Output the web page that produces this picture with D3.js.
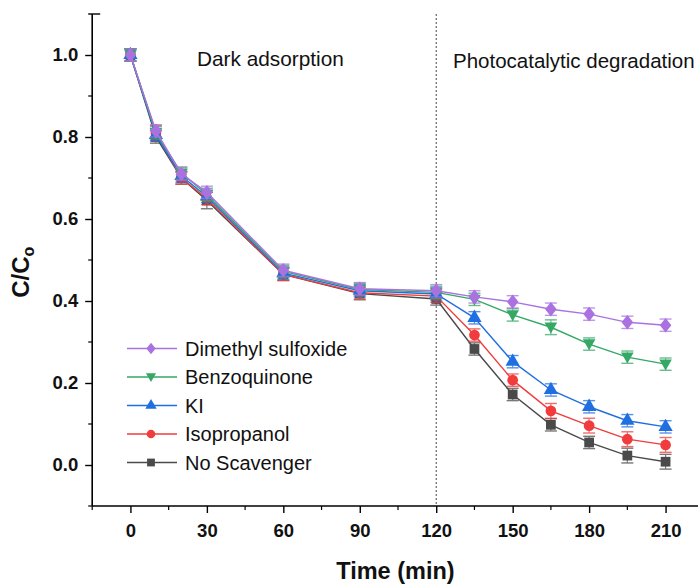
<!DOCTYPE html>
<html>
<head>
<meta charset="utf-8">
<script src="https://cdn.jsdelivr.net/npm/d3@7"></script>
<style>
  html, body { margin: 0; padding: 0; background: #fff; }
  svg { display: block; font-family: "Liberation Sans", Arial, sans-serif; }
</style>
</head>
<body>
<svg id="chart" width="698" height="586"></svg>
<script>
// Sampling times (min)
const times = [0, 10, 20, 30, 60, 90, 120, 135, 150, 165, 180, 195, 210];

// C/Co for each scavenger
const noScavenger  = [1.00, 0.800, 0.700, 0.645, 0.465, 0.418, 0.405, 0.283, 0.172, 0.098, 0.055, 0.023, 0.008];
const isopropanol  = [1.00, 0.810, 0.700, 0.650, 0.465, 0.420, 0.412, 0.317, 0.207, 0.132, 0.096, 0.063, 0.049];
const ki           = [1.00, 0.805, 0.705, 0.655, 0.468, 0.425, 0.417, 0.359, 0.252, 0.183, 0.142, 0.108, 0.093];
const benzoquinone = [1.00, 0.810, 0.712, 0.660, 0.472, 0.428, 0.421, 0.404, 0.366, 0.336, 0.295, 0.263, 0.246];
const dmso         = [1.00, 0.815, 0.710, 0.665, 0.475, 0.430, 0.425, 0.410, 0.398, 0.380, 0.368, 0.348, 0.341];

// Error bar half-widths
const errNoScav = [0.015, 0.015, 0.015, 0.020, 0.015, 0.015, 0.015, 0.015, 0.015, 0.015, 0.015, 0.018, 0.018];
const errIso    = [0.015, 0.018, 0.015, 0.015, 0.015, 0.015, 0.015, 0.015, 0.015, 0.018, 0.018, 0.018, 0.018];
const errKi     = [0.015, 0.015, 0.015, 0.015, 0.015, 0.015, 0.015, 0.015, 0.015, 0.015, 0.015, 0.015, 0.015];
const errBq     = [0.015, 0.015, 0.015, 0.015, 0.015, 0.015, 0.015, 0.015, 0.015, 0.018, 0.015, 0.015, 0.015];
const errDmso   = [0.015, 0.015, 0.015, 0.015, 0.015, 0.015, 0.015, 0.015, 0.015, 0.015, 0.015, 0.015, 0.015];

const seriesNames  = ["No Scavenger", "Isopropanol", "KI", "Benzoquinone", "Dimethyl sulfoxide"];
const seriesColors = ["#4a4a4a", "#f03c3c", "#1f6fe0", "#35a866", "#aa72e0"];
const seriesSymbols = ["square", "circle", "up", "down", "diamond"];

const xTicks = [0, 30, 60, 90, 120, 150, 180, 210];
const yTicks = [0.0, 0.2, 0.4, 0.6, 0.8, 1.0];

const series = [
  { name: seriesNames[0], values: noScavenger,  err: errNoScav, color: seriesColors[0], symbol: seriesSymbols[0] },
  { name: seriesNames[1], values: isopropanol,  err: errIso,    color: seriesColors[1], symbol: seriesSymbols[1] },
  { name: seriesNames[2], values: ki,           err: errKi,     color: seriesColors[2], symbol: seriesSymbols[2] },
  { name: seriesNames[3], values: benzoquinone, err: errBq,     color: seriesColors[3], symbol: seriesSymbols[3] },
  { name: seriesNames[4], values: dmso,         err: errDmso,   color: seriesColors[4], symbol: seriesSymbols[4] }
];

const svg = d3.select("#chart");

const x = d3.scaleLinear().domain([-15, 225]).range([92.2, 703.8]);
const y = d3.scaleLinear().domain([-0.1, 1.1]).range([506, 14]);

// Marker shapes
function symbolPath(kind) {
  switch (kind) {
    case "square":  return d3.symbol(d3.symbolSquare, 95)();
    case "circle":  return d3.symbol(d3.symbolCircle, 90)();
    case "up":      return d3.symbol(d3.symbolTriangle, 88)();
    case "down":    return "M-6.3,-4.7L6.3,-4.7L0,6.3Z";
    case "diamond": return "M0,-7.3L5.8,0L0,7.3L-5.8,0Z";
  }
}

// Axes
const axisColor = "#000";
const xAxis = d3.axisBottom(x).tickValues(xTicks).tickSize(7).tickPadding(11).tickFormat(d3.format("d"));
const gx = svg.append("g").attr("transform", `translate(0,${y(-0.1)})`).call(xAxis);
gx.select(".domain").attr("d", `M${x(-15)},0H${x(225)}`).attr("stroke-width", 1.6);
gx.selectAll(".tick line").attr("stroke-width", 1.4);
gx.selectAll(".tick text").attr("font-size", 18.5).attr("font-weight", "bold").attr("fill", "#111");
// minor x ticks
const xMinor = d3.range(-15, 226, 30);
gx.selectAll(".minor").data(xMinor).enter().append("line")
  .attr("x1", d => x(d)).attr("x2", d => x(d)).attr("y1", 0).attr("y2", 4)
  .attr("stroke", axisColor).attr("stroke-width", 1.2);

const yAxis = d3.axisLeft(y).tickValues(yTicks).tickSize(7).tickPadding(7).tickFormat(d3.format(".1f"));
const gy = svg.append("g").attr("transform", `translate(${x(-15)},0)`).call(yAxis);
gy.select(".domain").attr("d", `M0,${y(1.1)}V${y(-0.1)}`).attr("stroke-width", 1.6);
gy.selectAll(".tick line").attr("stroke-width", 1.4);
gy.selectAll(".tick text").attr("font-size", 18.5).attr("font-weight", "bold").attr("fill", "#111");
const yMinor = [-0.1, 0.1, 0.3, 0.5, 0.7, 0.9];
gy.selectAll(".minor").data(yMinor).enter().append("line")
  .attr("x1", -4).attr("x2", 0).attr("y1", d => y(d)).attr("y2", d => y(d))
  .attr("stroke", axisColor).attr("stroke-width", 1.2);
// top end of the axis
gy.append("line").attr("x1", -4).attr("x2", 8).attr("y1", y(1.1)).attr("y2", y(1.1))
  .attr("stroke", axisColor).attr("stroke-width", 1.4);

// Axis titles
svg.append("text").attr("x", x(104)).attr("y", 579).attr("text-anchor", "middle")
  .attr("font-size", 23.5).attr("font-weight", "bold").attr("fill", "#111").text("Time (min)");
const yt = svg.append("text").attr("transform", `translate(29,${y(0.47)}) rotate(-90)`)
  .attr("text-anchor", "middle").attr("font-size", 24).attr("font-weight", "bold").attr("fill", "#111");
yt.append("tspan").text("C/C");
yt.append("tspan").attr("font-size", 16).attr("dy", 5).text("o");

// Phase separator
svg.append("line").attr("x1", x(120)).attr("x2", x(120)).attr("y1", y(1.1)).attr("y2", y(-0.1))
  .attr("stroke", "#333").attr("stroke-width", 0.9).attr("stroke-dasharray", "2,2");

svg.append("text").attr("x", 197).attr("y", 66).attr("font-size", 20.8).attr("fill", "#111").text("Dark adsorption");
svg.append("text").attr("x", 453).attr("y", 68).attr("font-size", 20.5).attr("fill", "#111").text("Photocatalytic degradation");

// Series
const line = d3.line().x(d => x(d[0])).y(d => y(d[1]));
series.forEach(s => {
  const pts = times.map((t, i) => [t, s.values[i], s.err[i]]);
  const g = svg.append("g");
  g.append("path").datum(pts).attr("d", line).attr("fill", "none")
    .attr("stroke", s.color).attr("stroke-width", 1.4);
  const eb = g.selectAll(".eb").data(pts).enter().append("g").attr("opacity", 0.75);
  eb.append("line").attr("x1", d => x(d[0])).attr("x2", d => x(d[0]))
    .attr("y1", d => y(d[1] + d[2])).attr("y2", d => y(d[1] - d[2]))
    .attr("stroke", s.color).attr("stroke-width", 1.2);
  [1, -1].forEach(sign => {
    eb.append("line").attr("x1", d => x(d[0]) - 6).attr("x2", d => x(d[0]) + 6)
      .attr("y1", d => y(d[1] + sign * d[2])).attr("y2", d => y(d[1] + sign * d[2]))
      .attr("stroke", s.color).attr("stroke-width", 1.4);
  });
  g.selectAll(".mk").data(pts).enter().append("path")
    .attr("d", symbolPath(s.symbol))
    .attr("transform", d => `translate(${x(d[0])},${y(d[1])})`)
    .attr("fill", s.color);
});

// Legend
const legendOrder = [4, 3, 2, 1, 0];
const lg = svg.append("g");
legendOrder.forEach((idx, row) => {
  const s = series[idx];
  const ly = 348.5 + row * 28.5;
  lg.append("line").attr("x1", 127).attr("x2", 177).attr("y1", ly).attr("y2", ly)
    .attr("stroke", s.color).attr("stroke-width", 1.4);
  lg.append("path").attr("d", symbolPath(s.symbol))
    .attr("transform", `translate(151,${ly}) scale(0.8)`).attr("fill", s.color);
  lg.append("text").attr("x", 185).attr("y", ly + 7).attr("font-size", 20).attr("fill", "#111").text(s.name);
});
</script>
</body>
</html>
